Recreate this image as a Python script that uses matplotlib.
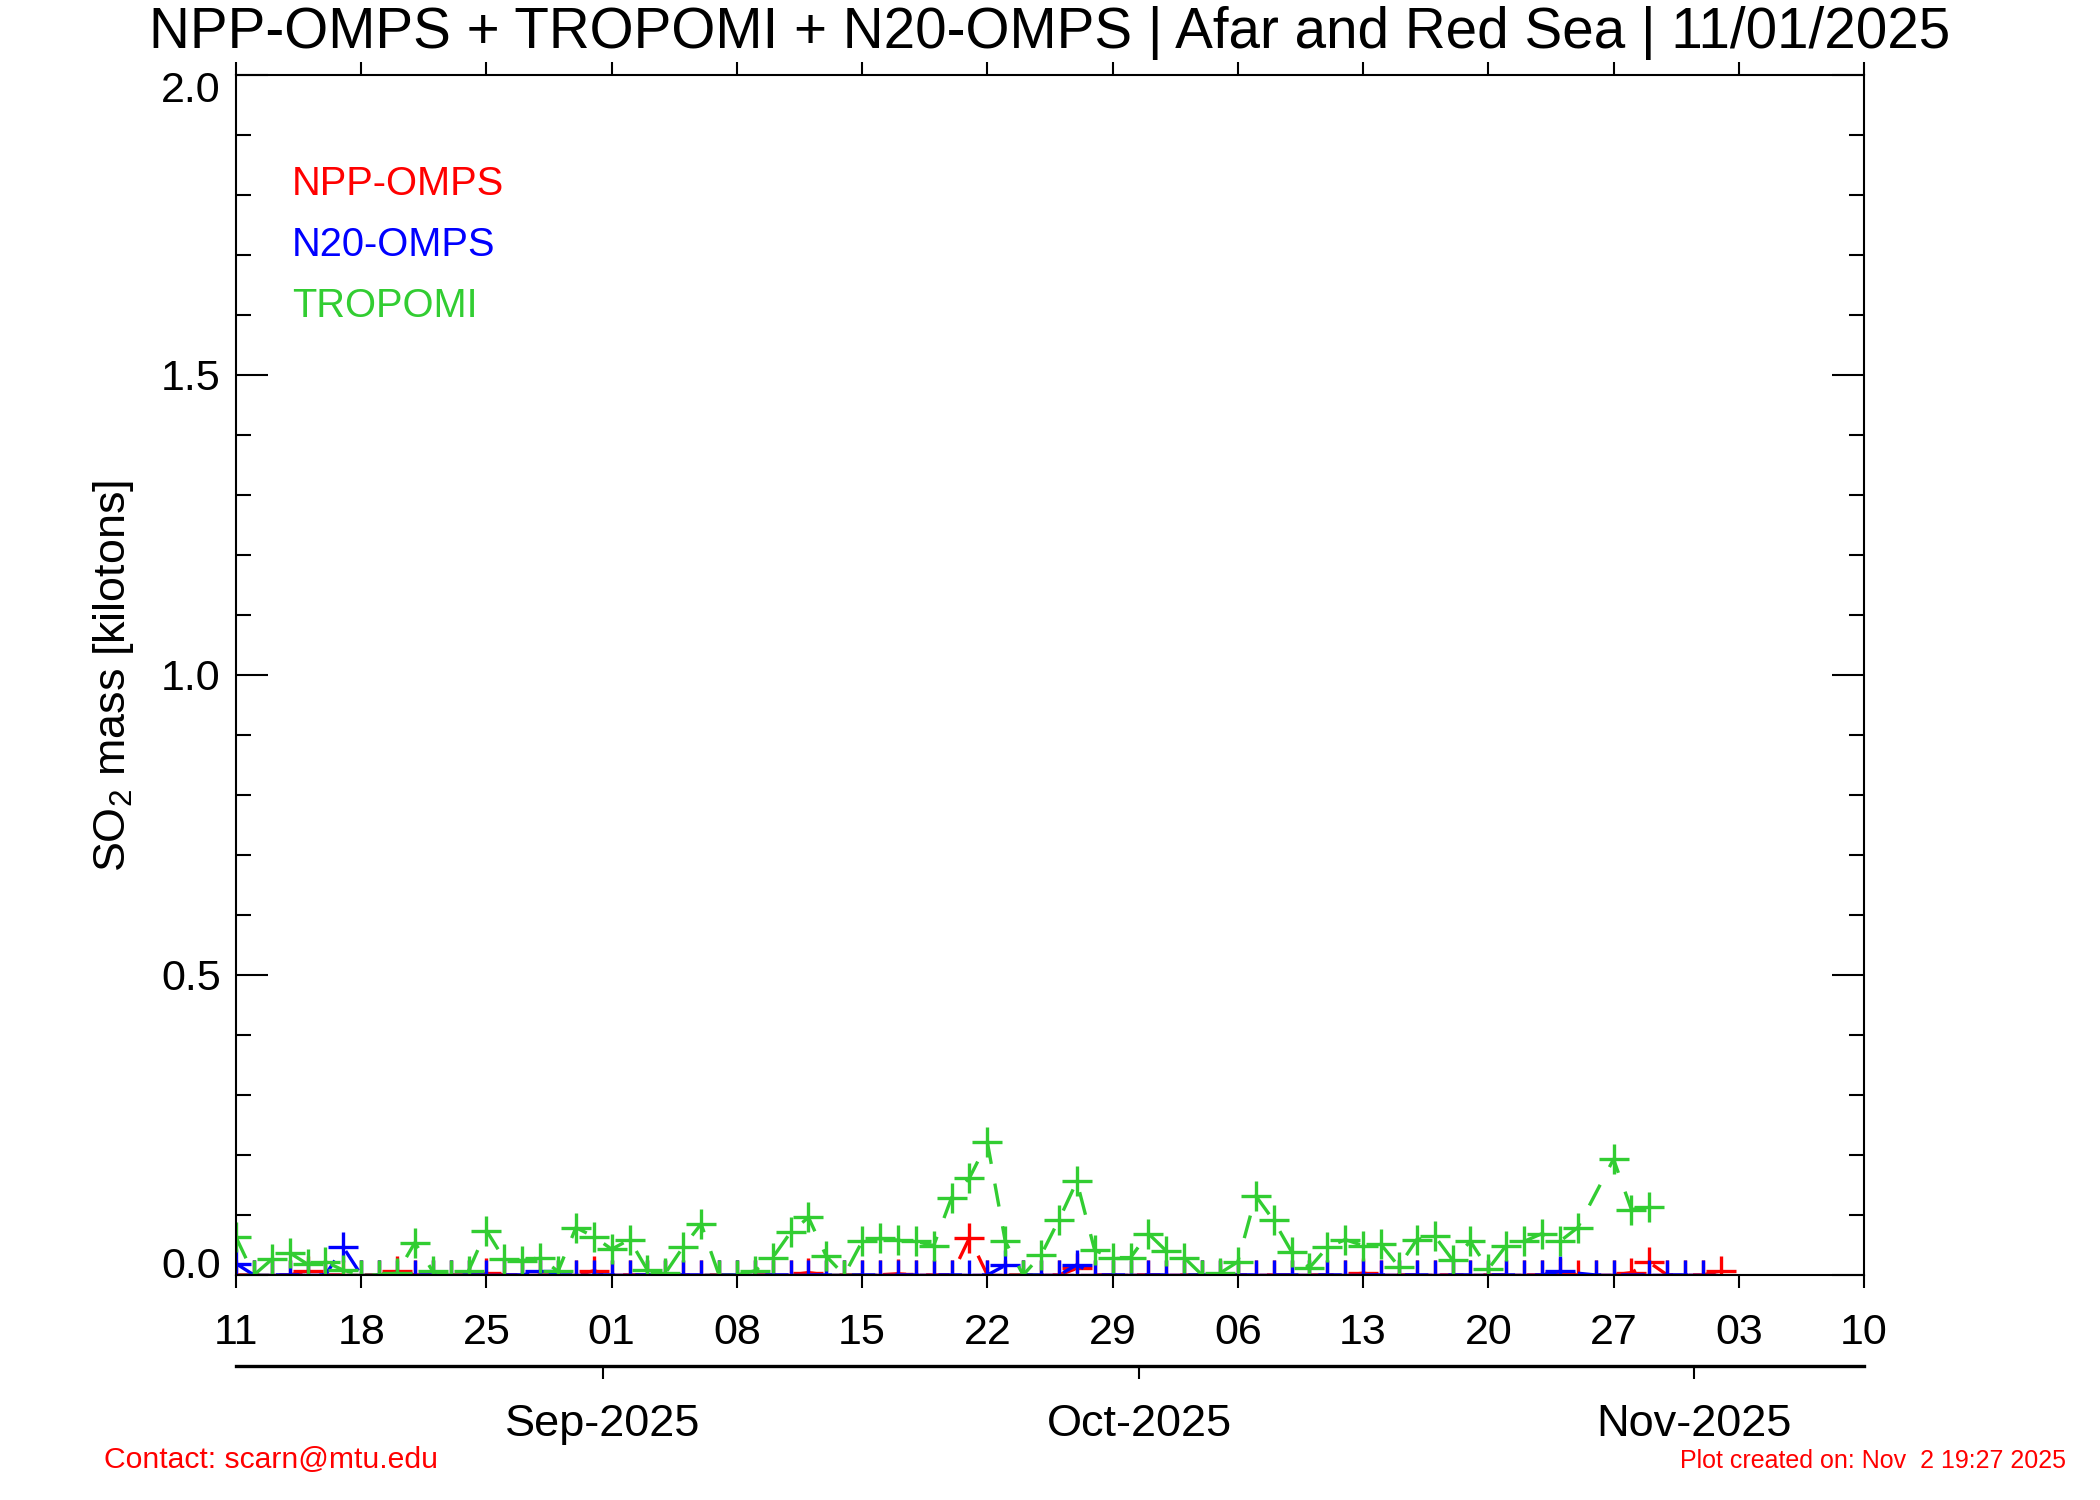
import numpy as np
import pandas as pd
import matplotlib
matplotlib.use('Agg')
from matplotlib import pyplot as plt
import matplotlib.dates as mdates
from matplotlib.transforms import ScaledTranslation

plt.rcParams['font.family'] = ['Liberation Sans', 'DejaVu Sans']
plt.rcParams['mathtext.fontset'] = 'custom'
plt.rcParams['mathtext.rm'] = 'Liberation Sans'
plt.rcParams['mathtext.default'] = 'regular'

title = "NPP-OMPS + TROPOMI + N20-OMPS | Afar and Red Sea | 11/01/2025"
ylabel = r"SO$_2$ mass [kilotons]"
x_start = pd.Timestamp('2025-08-11')
x_end = pd.Timestamp('2025-11-10')
month_labels = ['Sep-2025', 'Oct-2025', 'Nov-2025']
month_starts = pd.to_datetime(['2025-09-01', '2025-10-01', '2025-11-01'])

# NPP-OMPS, daily 08/11 .. 11/02
npp_dates = pd.date_range('2025-08-11', '2025-11-02')
npp_mass = [0, 0, 0, 0, 0.007, 0, 0, 0, 0, 0.006,
            0, 0, 0, 0, 0.003, 0, 0, 0, 0, 0,
            0.007, 0, 0, 0, 0, 0, 0, 0, 0, 0,
            0, 0, 0.004, 0, 0, 0, 0, 0.002, 0, 0,
            0, 0.062, 0, 0, 0, 0, 0, 0.011, 0, 0,
            0, 0, 0, 0, 0, 0, 0, 0, 0, 0,
            0, 0, 0, 0.003, 0, 0, 0, 0, 0, 0,
            0, 0, 0, 0, 0.003, 0, 0, 0, 0.004, 0.021,
            0, 0, 0, 0.007]

# N20-OMPS, daily 08/11 .. 11/01 (no data 10/25, 10/28)
n20_dates = pd.date_range('2025-08-11', '2025-11-01').drop(pd.to_datetime(['2025-10-25', '2025-10-28']))
n20_mass = [0.019, 0, 0, 0, 0, 0, 0.046, 0, 0, 0,
            0, 0, 0, 0, 0, 0, 0, 0.006, 0, 0,
            0, 0, 0, 0, 0, 0, 0, 0, 0, 0,
            0, 0, 0, 0, 0, 0, 0, 0, 0, 0,
            0, 0, 0, 0.016, 0, 0, 0, 0.017, 0, 0,
            0, 0, 0, 0, 0, 0, 0, 0, 0, 0,
            0, 0, 0, 0, 0, 0, 0, 0, 0, 0,
            0, 0, 0, 0, 0.006,
            0, 0,
            0, 0, 0, 0]

# TROPOMI, daily 08/11 .. 10/29 (no data 10/26)
tropomi_dates = pd.date_range('2025-08-11', '2025-10-29').drop(pd.to_datetime(['2025-10-26']))
tropomi_mass = [0.063, 0.0, 0.026, 0.037, 0.018, 0.022, 0.008, 0.0, 0.0, 0.003,
                0.054, 0.006, 0.0, 0.007, 0.074, 0.026, 0.024, 0.029, 0.006, 0.079,
                0.064, 0.043, 0.059, 0.008, 0.003, 0.047, 0.085, 0.0, 0.0, 0.007,
                0.029, 0.071, 0.096, 0.031, 0.0, 0.056, 0.061, 0.058, 0.056, 0.049,
                0.129, 0.162, 0.221, 0.056, 0.0, 0.033, 0.092, 0.156, 0.041, 0.029,
                0.029, 0.069, 0.040, 0.029, 0.0, 0.003, 0.022, 0.132, 0.091, 0.039,
                0.012, 0.046, 0.059, 0.049, 0.051, 0.014, 0.059, 0.065, 0.025, 0.056,
                0.010, 0.049, 0.056, 0.069, 0.056, 0.079,
                0.193, 0.109, 0.114]

series = [(npp_dates, npp_mass, 'red', 'NPP-OMPS'),
          (n20_dates, n20_mass, 'blue', 'N20-OMPS'),
          (tropomi_dates, tropomi_mass, 'limegreen', 'TROPOMI')]

fig = plt.figure(figsize=(21, 15), dpi=100)
ax = fig.add_axes([236 / 2100, 1 - 1275 / 1500, 1628 / 2100, 1200 / 1500])

for dates, mass, color, name in series:
    ax.plot(dates, mass, color=color, linestyle='--', dashes=(7, 6), lw=2.4,
            marker='+', markersize=21, markeredgewidth=2.4)

ax.set_xlim(x_start, x_end)
ax.set_ylim(0, 2.0)

# weekly ticks
ax.set_xticks(pd.date_range(x_start, x_end, freq='7D'))
ax.xaxis.set_major_formatter(mdates.DateFormatter('%d'))
ax.set_yticks([0.0, 0.5, 1.0, 1.5, 2.0])
ax.set_yticks(np.arange(0, 2.01, 0.1), minor=True)
ax.yaxis.set_major_formatter(plt.FormatStrFormatter('%.1f'))
ax.tick_params(axis='x', which='both', top=True, direction='out', length=9.5, width=1.5,
               pad=18, labelsize=31)
ax.tick_params(axis='y', which='both', left=True, right=True, direction='in', width=1.5,
               pad=11, labelsize=31)
ax.tick_params(axis='y', which='major', length=23)
ax.tick_params(axis='y', which='minor', length=11)
for s in ax.spines.values():
    s.set_linewidth(1.5)

# keep end labels inside the axis range, like the original
yt = ax.yaxis.get_major_ticks()
yt[0].label1.set_transform(yt[0].label1.get_transform() + ScaledTranslation(0, 0.12, fig.dpi_scale_trans))
yt[-1].label1.set_transform(yt[-1].label1.get_transform() + ScaledTranslation(0, -0.12, fig.dpi_scale_trans))

# month axis below
sec = ax.secondary_xaxis(-91 / 1200)
sec.set_xticks(mdates.date2num(month_starts - pd.Timedelta(hours=12)))
sec.set_xticklabels(month_labels)
sec.tick_params(axis='x', direction='out', length=9.5, width=1.5, pad=18, labelsize=32.5)
sec.spines['bottom'].set_linewidth(2.4)

# legend as coloured text
for i, (dates, mass, color, name) in enumerate(series):
    ax.text(56 / 1628, (1091 - 61 * i) / 1200, name, color=color, fontsize=28.7,
            transform=ax.transAxes, ha='left', va='center')

fig.text(0.5, 1 - 33 / 1500, title, fontsize=40.8, ha='center', va='center')
fig.text(114 / 2100, 1 - 676 / 1500, ylabel, fontsize=32.3, rotation=90, ha='center', va='center')
fig.text(104 / 2100, 1 - 1460 / 1500, 'Contact: scarn@mtu.edu', color='red', fontsize=21.7,
         ha='left', va='center')
fig.text(2066 / 2100, 1 - 1461 / 1500, 'Plot created on: Nov  2 19:27 2025', color='red',
         fontsize=18, ha='right', va='center')

fig.savefig('out.png', dpi=100)
